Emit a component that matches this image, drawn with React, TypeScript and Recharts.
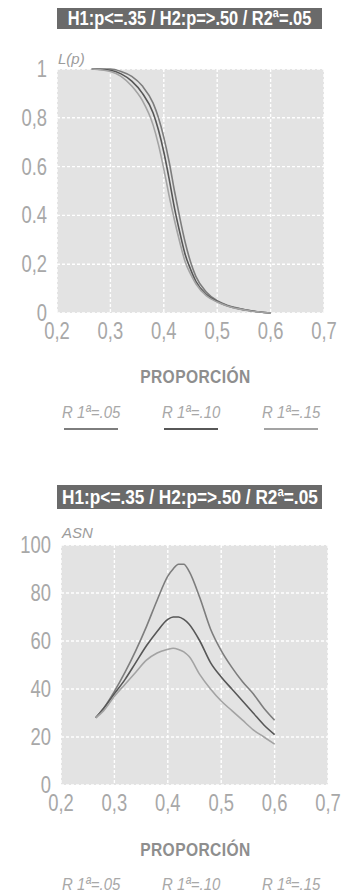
import React from 'react'
import { LineChart, Line, XAxis, YAxis, CartesianGrid } from 'recharts'

const title = 'H1:p<=.35 / H2:p=>.50 / R2ª=.05'
const legendLabels = ['R 1ª=.05', 'R 1ª=.10', 'R 1ª=.15']
const seriesColors = ['#7d7d7d', '#575757', '#a3a3a3']

const xTicks = [0.2, 0.3, 0.4, 0.5, 0.6, 0.7]
const xTickLabels = ['0,2', '0,3', '0,4', '0,5', '0,6', '0,7']

// L(p) operating characteristic
const ocP = [0.265, 0.3, 0.32, 0.34, 0.36, 0.38, 0.39, 0.4, 0.41, 0.42, 0.43, 0.44, 0.45, 0.46, 0.48, 0.5, 0.52, 0.54, 0.56, 0.58, 0.6]
const ocR05 = [1, 1, 0.99, 0.97, 0.93, 0.86, 0.8, 0.72, 0.62, 0.5, 0.39, 0.29, 0.21, 0.15, 0.085, 0.05, 0.031, 0.019, 0.01, 0.004, 0]
const ocR10 = [1, 0.995, 0.98, 0.95, 0.9, 0.82, 0.75, 0.66, 0.55, 0.43, 0.33, 0.24, 0.18, 0.13, 0.075, 0.047, 0.029, 0.018, 0.01, 0.004, 0]
const ocR15 = [1, 0.99, 0.97, 0.93, 0.87, 0.77, 0.69, 0.59, 0.48, 0.38, 0.29, 0.21, 0.16, 0.12, 0.07, 0.045, 0.028, 0.017, 0.009, 0.004, 0]
const ocTicks = [0, 0.2, 0.4, 0.6, 0.8, 1]
const ocTickLabels = ['0', '0,2', '0.4', '0.6', '0,8', '1']

// ASN
const asnP = [0.265, 0.28, 0.3, 0.32, 0.34, 0.36, 0.38, 0.4, 0.41, 0.42, 0.43, 0.44, 0.46, 0.48, 0.5, 0.52, 0.54, 0.56, 0.58, 0.6]
const asnR05 = [28, 32, 39, 47, 56, 66, 77, 87, 90, 92, 92, 89, 78, 65, 56, 49, 43, 38, 32, 27]
const asnR10 = [28, 32, 38, 44, 51, 58, 64, 69, 70, 70, 69, 67, 60, 51, 45, 40, 35, 30, 25, 21]
const asnR15 = [28, 31, 37, 42, 47, 52, 55, 56.5, 57, 56.5, 55.5, 53.5, 46, 40, 35, 31, 27, 23, 20, 17]
const asnTicks = [0, 20, 40, 60, 80, 100]
const asnTickLabels = ['0', '20', '40', '60', '80', '100']

const ocData = ocP.map((p, i) => ({ p, r05: ocR05[i], r10: ocR10[i], r15: ocR15[i] }))
const asnData = asnP.map((p, i) => ({ p, r05: asnR05[i], r10: asnR10[i], r15: asnR15[i] }))

const FONT = "'Liberation Sans', Arial, sans-serif"

// condensed-looking tick text (no narrow font installed, so squeeze it)
const NarrowTick = (props: any) => {
  const { x, y, payload, labels, ticks, anchor, dy } = props
  const label = labels[ticks.indexOf(payload.value)]
  return (
    <text transform={`translate(${x},${y}) scale(0.8,1)`} textAnchor={anchor} dy={dy} fontSize={23} fill="#a8a8a8" fontFamily={FONT}>
      {label}
    </text>
  )
}

type PanelProps = {
  top: number
  height: number
  margin: { top: number; right: number; left: number; bottom: number }
  yWidth: number
  xHeight: number
  data: any[]
  yDomain: [number, number]
  yTicks: number[]
  yLabels: string[]
  unit: string
  underline: boolean
  layout: { banner: number; bannerH: number; bannerFont: number; unit: number; axisTitle: number; legend: number; plotLeft: number }
}

const Panel: React.FC<PanelProps> = ({ top, height, margin, yWidth, xHeight, data, yDomain, yTicks, yLabels, unit, underline, layout }) => {
  return (
    <div style={{ position: 'absolute', left: 0, top, width: 346, height: 450 }}>
      <div style={{ position: 'absolute', left: 57, top: layout.banner, width: 265, height: layout.bannerH, background: '#6a6a6a', overflow: 'hidden', textAlign: 'center' }}>
        <span style={{ display: 'inline-block', transform: 'scaleX(0.82)', transformOrigin: 'center', color: '#fff', fontFamily: FONT, fontWeight: 700, fontSize: layout.bannerFont, lineHeight: `${layout.bannerH}px`, whiteSpace: 'nowrap', marginLeft: -60, marginRight: -60 }}>
          {title}
        </span>
      </div>
      <div style={{ position: 'absolute', left: layout.plotLeft + 1, top: layout.unit, fontFamily: FONT, fontStyle: 'italic', fontSize: 15, color: '#9c9c9c' }}>{unit}</div>
      <div style={{ position: 'absolute', left: 0, top: 0 }}>
        <LineChart width={346} height={height} data={data} margin={margin}>
          <CartesianGrid fill="#e3e3e3" stroke="#ffffff" strokeDasharray="3 2" strokeWidth={1.4} />
          <XAxis type="number" dataKey="p" domain={[0.2, 0.7]} ticks={xTicks} height={xHeight} axisLine={false} tickLine={false} tickSize={0} tickMargin={6} interval={0}
            tick={(p: any) => <NarrowTick {...p} labels={xTickLabels} ticks={xTicks} anchor="middle" dy={20} />} />
          <YAxis type="number" domain={yDomain} ticks={yTicks} width={yWidth} axisLine={false} tickLine={false} tickSize={0} tickMargin={10} interval={0}
            tick={(p: any) => <NarrowTick {...p} labels={yLabels} ticks={yTicks} anchor="end" dy={8} />} />
          <Line type="monotone" dataKey="r05" stroke={seriesColors[0]} strokeWidth={1.6} dot={false} isAnimationActive={false} />
          <Line type="monotone" dataKey="r10" stroke={seriesColors[1]} strokeWidth={1.6} dot={false} isAnimationActive={false} />
          <Line type="monotone" dataKey="r15" stroke={seriesColors[2]} strokeWidth={1.6} dot={false} isAnimationActive={false} />
        </LineChart>
      </div>
      <div style={{ position: 'absolute', left: 110, width: 170, top: layout.axisTitle, textAlign: 'center' }}>
        <span style={{ display: 'inline-block', transform: 'scaleX(0.82)', fontFamily: FONT, fontWeight: 700, fontSize: 19, color: '#8e8e8e', letterSpacing: 0.5 }}>PROPORCIÓN</span>
      </div>
      {legendLabels.map((label, i) => (
        <div key={label} style={{ position: 'absolute', left: 62 + i * 100, top: layout.legend, width: 58 }}>
          <div style={{ fontFamily: FONT, fontStyle: 'italic', fontSize: 17, color: '#a8a8a8', whiteSpace: 'nowrap', transform: 'scaleX(0.88)', transformOrigin: 'left' }}>{label}</div>
          {underline && <div style={{ marginTop: 5, marginLeft: 2, width: 54, height: 2, background: seriesColors[i] }} />}
        </div>
      ))}
    </div>
  )
}

export default function App() {
  return (
    <div style={{ position: 'absolute', left: 0, top: 0, width: 346, height: 896, background: '#fff', overflow: 'hidden' }}>
      <Panel top={0} height={350} margin={{ top: 69, right: 22, left: 0, bottom: 0 }} yWidth={57} xHeight={37}
        data={ocData} yDomain={[0, 1]} yTicks={ocTicks} yLabels={ocTickLabels} unit="L(p)" underline
        layout={{ banner: 8, bannerH: 21, bannerFont: 20, unit: 50, axisTitle: 366, legend: 403, plotLeft: 57 }} />
      <Panel top={450} height={375} margin={{ top: 95, right: 18, left: 0, bottom: 0 }} yWidth={61} xHeight={40}
        data={asnData} yDomain={[0, 100]} yTicks={asnTicks} yLabels={asnTickLabels} unit="ASN" underline={false}
        layout={{ banner: 35, bannerH: 24, bannerFont: 21, unit: 74, axisTitle: 389, legend: 425, plotLeft: 61 }} />
    </div>
  )
}
